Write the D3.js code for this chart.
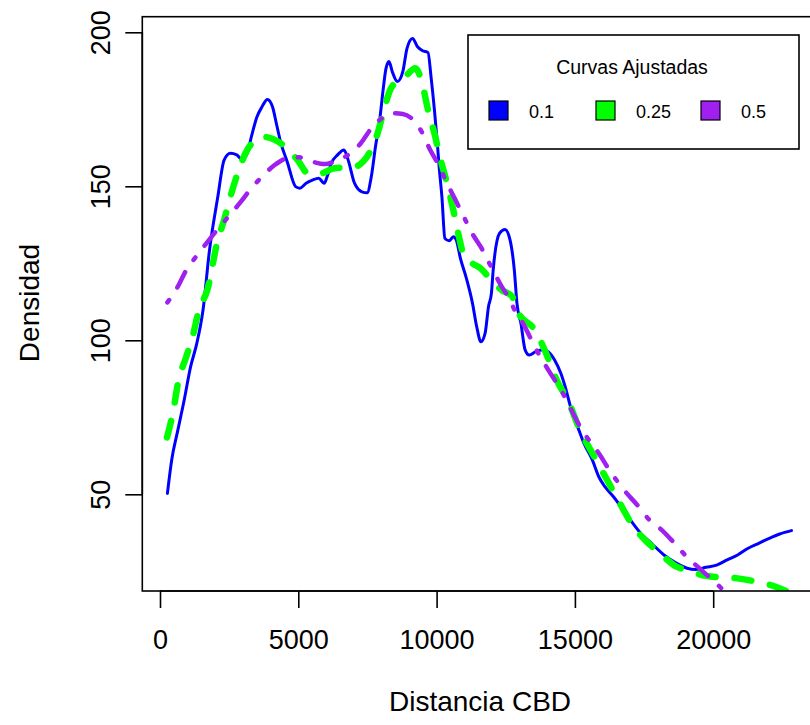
<!DOCTYPE html>
<html>
<head>
<meta charset="utf-8">
<script src="https://cdn.jsdelivr.net/npm/d3@7"></script>
<style>
  html, body { margin: 0; padding: 0; background: #fff; }
  svg { display: block; }
  text { font-family: "Liberation Sans", Arial, sans-serif; fill: #000; }
</style>
</head>
<body>
<svg id="chart" width="810" height="725"></svg>
<script>
// ---- data ----
const xTicks = [0, 5000, 10000, 15000, 20000];
const yTicks = [50, 100, 150, 200];
const seriesNames = ["0.1", "0.25", "0.5"];
const seriesColors = ["#0000FF", "#00FF00", "#A020F0"];

const blueX = [268, 420, 647, 875, 1103, 1331, 1558, 1786, 2090, 2318, 2545, 2773, 2957, 3153, 3304, 3503, 3688, 3883, 4067, 4219, 4371, 4599, 4902, 5054, 5282, 5510, 5737, 5936, 6041, 6193, 6421, 6652, 6804, 7032, 7303, 7488, 7639, 7791, 7943, 8066, 8171, 8279, 8398, 8583, 8778, 8930, 9129, 9310, 9494, 9690, 9798, 9921, 10026, 10102, 10192, 10300, 10452, 10604, 10709, 10861, 11059, 11298, 11450, 11602, 11754, 11876, 11982, 12046, 12274, 12473, 12654, 12810, 12905, 13048, 13200, 13352, 13579, 13854, 14035, 14266, 14494, 14646, 14873, 15101, 15329, 15633, 15864, 16092, 16396, 16699, 17003, 17383, 17766, 18221, 18677, 19057, 19364, 19743, 20123, 20503, 20882, 21265, 21645, 22025, 22404, 22831];
const blueY = [50.3, 61, 70.9, 80.6, 91.3, 99, 110, 129, 146.6, 158.5, 160.7, 160.2, 158.8, 160.7, 166.1, 172.5, 175.8, 178.2, 175.8, 169.9, 164, 158, 149.9, 149.4, 151, 152, 152.6, 151, 153.1, 157.5, 160.2, 161.8, 158.5, 151, 148.2, 147.9, 153.1, 162.9, 171.5, 181.3, 188.3, 190.5, 187.2, 184, 187.2, 194.8, 198, 195.3, 194, 193.4, 185.6, 174.8, 164, 155.3, 146.6, 133.1, 132.3, 133.6, 132.6, 126.6, 120.7, 112, 104.4, 99.5, 102.3, 110.9, 115.3, 122.8, 134.7, 136, 132.6, 122.8, 112, 105.5, 96.9, 95.2, 96.3, 96.9, 96.3, 93.6, 89.2, 85, 77.4, 71.9, 66.5, 61.1, 55.7, 52.4, 49.2, 45.5, 41.7, 37.3, 34.1, 30.3, 27.6, 26, 25.6, 26.3, 27, 28.7, 30.3, 32.5, 34.1, 35.7, 37.1, 38.2];

const greenX = [253, 495, 647, 951, 1179, 1406, 1710, 2090, 2318, 2545, 2849, 3153, 3456, 3688, 4447, 4750, 4978, 5358, 5813, 6269, 7032, 7335, 7563, 7867, 8095, 8323, 8550, 8854, 9234, 9461, 9690, 9921, 10149, 10376, 10604, 10756, 10983, 11287, 11587, 11970, 12354, 12733, 12972, 13503, 13883, 14342, 14797, 15177, 15633, 16168, 16623, 17155, 17534, 18069, 18677, 19057, 19743, 20275, 20882, 21720, 22253, 22636, 22900];
const greenY = [68.5, 77.9, 86, 94.7, 101.2, 109.8, 116.3, 132.6, 139.1, 146.6, 155.3, 161.8, 165, 166.1, 163.4, 160.7, 158.5, 154.2, 154.2, 155.8, 156.3, 158, 160.7, 167.2, 174.8, 181.3, 184, 185.6, 188.3, 184, 174.8, 167.2, 158.5, 151, 142.3, 135.8, 127.7, 125, 123.4, 119.6, 116.3, 114.2, 108.7, 103.9, 97.4, 87.1, 79.5, 70.9, 63.3, 54.6, 47.1, 39, 35.2, 30.9, 26.5, 25.4, 23.5, 23, 22.7, 21.3, 20, 18.6, 17.5];

const purpleX = [268, 643, 951, 1255, 1634, 2014, 2469, 2925, 3304, 3688, 4143, 4599, 5054, 5510, 5965, 6421, 6880, 7260, 7639, 8019, 8398, 8778, 9158, 9461, 9769, 10072, 10376, 10680, 10983, 11287, 11591, 11970, 12354, 12654, 12820, 13124, 13579, 14035, 14494, 15253, 15864, 16244, 16775, 17306, 17690, 18145, 18601, 18980, 19436, 19971, 20427, 20900];
const purpleY = [112.3, 117.4, 122.8, 126.6, 131, 135.3, 140.1, 145, 149.4, 153.1, 156.9, 159.1, 159.4, 158, 157.2, 158.5, 160.7, 164, 168.8, 172.1, 173.7, 173.5, 171.5, 167.7, 161.8, 156.9, 151, 145.6, 140.1, 134.7, 130.4, 123.9, 117.4, 113.1, 109.8, 105.5, 97.4, 90.4, 83.9, 70.9, 63.3, 57.9, 51.4, 46, 41.7, 38.4, 34.1, 30.3, 26.5, 22.2, 18.4, 14.5];

// ---- layout ----
const svg = d3.select("#chart");
const plotL = 142.3, plotT = 16.7, plotB = 591, plotR = 851;
// calibrated: 0 -> 160px, 27.66px per 1000 ; 200 -> 32.3px, 3.08px per unit
const x = d3.scaleLinear()
  .domain([(plotL - 160) / 27.66 * 1000, (plotR - 160) / 27.66 * 1000])
  .range([plotL, plotR]);
const y = d3.scaleLinear()
  .domain([200 - (plotB - 32.3) / 3.08, 200 + (32.3 - plotT) / 3.08])
  .range([plotB, plotT]);

svg.append("defs").append("clipPath").attr("id", "plotclip")
  .append("rect").attr("x", plotL).attr("y", plotT)
  .attr("width", plotR - plotL).attr("height", plotB - plotT);

const line = d3.line().x(d => x(d[0])).y(d => y(d[1])).curve(d3.curveMonotoneX);
const zip = (a, b) => a.map((v, i) => [v, b[i]]);

const g = svg.append("g").attr("clip-path", "url(#plotclip)");
g.append("path").datum(zip(blueX, blueY)).attr("d", line)
  .attr("fill", "none").attr("stroke", seriesColors[0]).attr("stroke-width", 3)
  .attr("stroke-linejoin", "round").attr("stroke-linecap", "round");
g.append("path").datum(zip(greenX, greenY)).attr("d", line)
  .attr("fill", "none").attr("stroke", seriesColors[1]).attr("stroke-width", 6.5)
  .attr("stroke-dasharray", "17,19").attr("stroke-linecap", "round");
g.append("path").datum(zip(purpleX, purpleY)).attr("d", line)
  .attr("fill", "none").attr("stroke", seriesColors[2]).attr("stroke-width", 4.5)
  .attr("stroke-dasharray", "3,15,17,15").attr("stroke-linecap", "round");

// box
svg.append("rect").attr("x", plotL).attr("y", plotT)
  .attr("width", plotR - plotL).attr("height", plotB - plotT)
  .attr("fill", "none").attr("stroke", "#000").attr("stroke-width", 1.6);

// x axis
const xAxisY = 591;
const xa = svg.append("g").attr("transform", `translate(0,${xAxisY})`)
  .call(d3.axisBottom(x).tickValues(xTicks).tickSize(17).tickPadding(22).tickFormat(d3.format("d")));
xa.select(".domain").remove();
xa.selectAll("line").attr("stroke", "#000").attr("stroke-width", 1.6);
xa.selectAll("text").attr("font-size", 27).attr("font-family", "Liberation Sans, Arial, sans-serif").attr("fill", "#000");
svg.append("line").attr("x1", x(xTicks[0])).attr("x2", x(xTicks[xTicks.length - 1]))
  .attr("y1", xAxisY).attr("y2", xAxisY).attr("stroke", "#000").attr("stroke-width", 1.6);

// y axis
const ya = svg.append("g").attr("transform", `translate(${plotL},0)`)
  .call(d3.axisLeft(y).tickValues(yTicks).tickSize(17).tickFormat(d3.format("d")));
ya.select(".domain").remove();
ya.selectAll("line").attr("stroke", "#000").attr("stroke-width", 1.6);
ya.selectAll("text").remove();
ya.selectAll(".tick").append("text")
  .attr("transform", "translate(-42,0) rotate(-90)")
  .attr("text-anchor", "middle").attr("dy", "0.35em")
  .attr("font-size", 27).attr("fill", "#000")
  .text(d => d3.format("d")(d));
svg.append("line").attr("x1", plotL).attr("x2", plotL)
  .attr("y1", y(yTicks[0])).attr("y2", y(yTicks[yTicks.length - 1]))
  .attr("stroke", "#000").attr("stroke-width", 1.6);

// axis titles
svg.append("text").attr("x", 480).attr("y", 711).attr("text-anchor", "middle")
  .attr("font-size", 28).text("Distancia CBD");
svg.append("text").attr("transform", "translate(39,303) rotate(-90)")
  .attr("text-anchor", "middle").attr("font-size", 28).text("Densidad");

// legend
const lg = svg.append("g");
lg.append("rect").attr("x", 468).attr("y", 35).attr("width", 331).attr("height", 114)
  .attr("fill", "#fff").attr("stroke", "#000").attr("stroke-width", 1.6);
lg.append("text").attr("x", 632).attr("y", 74).attr("text-anchor", "middle")
  .attr("font-size", 19.5).text("Curvas Ajustadas");
const itemX = [489, 596, 701];
seriesNames.forEach((n, i) => {
  lg.append("rect").attr("x", itemX[i]).attr("y", 101).attr("width", 19).attr("height", 19)
    .attr("fill", seriesColors[i]).attr("stroke", "#000").attr("stroke-width", 1.2);
  lg.append("text").attr("x", itemX[i] + 40).attr("y", 118).attr("font-size", 18).text(n);
});
</script>
</body>
</html>
